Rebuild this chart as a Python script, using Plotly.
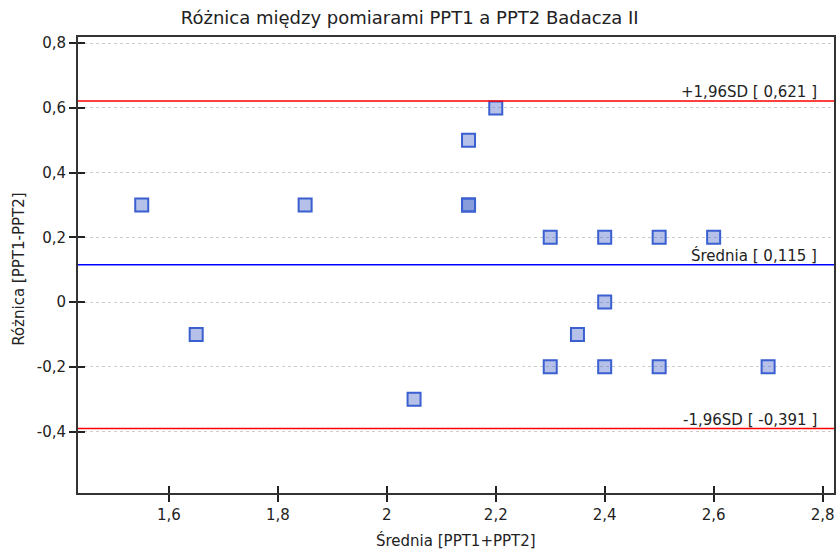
import plotly.graph_objects as go

# Data
srednia = [1.55, 1.65, 1.85, 2.05, 2.15, 2.15, 2.15, 2.2, 2.3, 2.3, 2.35, 2.4, 2.4, 2.4, 2.5, 2.5, 2.6, 2.7]
roznica = [0.3, -0.1, 0.3, -0.3, 0.5, 0.3, 0.3, 0.6, 0.2, -0.2, -0.1, 0.2, 0.0, -0.2, 0.2, -0.2, 0.2, -0.2]

mean_val = 0.115
upper_sd = 0.621
lower_sd = -0.391
ref_lines = [upper_sd, mean_val, lower_sd]
ref_colors = ["#ff0000", "#0000ff", "#ff0000"]
ref_labels = ["+1,96SD [ 0,621 ]", "Średnia [ 0,115 ]", "-1,96SD [ -0,391 ]"]

x_ticks = [1.6, 1.8, 2.0, 2.2, 2.4, 2.6, 2.8]
x_ticktext = ["1,6", "1,8", "2", "2,2", "2,4", "2,6", "2,8"]
y_ticks = [0.8, 0.6, 0.4, 0.2, 0.0, -0.2, -0.4]
y_ticktext = ["0,8", "0,6", "0,4", "0,2", "0", "-0,2", "-0,4"]

x_range = [1.433, 2.821]
y_range = [-0.59, 0.819]

font_family = "DejaVu Sans, Verdana, sans-serif"
txt_color = "#222222"

fig = go.Figure()

fig.add_trace(go.Scatter(
    x=srednia, y=roznica, mode="markers",
    marker=dict(symbol="square", size=13, color="rgba(70,100,200,0.4)",
                line=dict(color="#3a5fd0", width=2)),
    showlegend=False, hoverinfo="x+y",
))

shapes = []
annotations = []
for val, col, lab in zip(ref_lines, ref_colors, ref_labels):
    shapes.append(dict(type="line", xref="paper", x0=0, x1=1, yref="y", y0=val, y1=val,
                       line=dict(color=col, width=1.5), layer="above"))
    annotations.append(dict(xref="paper", x=0.98, yref="y", y=val, text=lab,
                            showarrow=False, xanchor="right", yanchor="bottom",
                            yshift=-2, font=dict(family=font_family, size=15, color=txt_color)))

# axis titles as annotations for exact placement
annotations.append(dict(xref="paper", x=0.5, yref="paper", y=-0.105, yanchor="middle",
                        text="Średnia [PPT1+PPT2]", showarrow=False,
                        font=dict(family=font_family, size=15, color=txt_color)))
annotations.append(dict(xref="paper", x=-0.079, xanchor="center", yref="paper", y=0.49,
                        text="Różnica [PPT1-PPT2]", showarrow=False, textangle=-90,
                        font=dict(family=font_family, size=15, color=txt_color)))

fig.update_layout(
    width=836, height=551,
    margin=dict(l=78, r=2, t=37, b=58),
    paper_bgcolor="white", plot_bgcolor="white",
    title=dict(text="Różnica między pomiarami PPT1 a PPT2 Badacza II",
               x=0.49, xanchor="center", y=0.967, yanchor="middle",
               font=dict(family=font_family, size=18, color=txt_color)),
    font=dict(family=font_family, size=15, color=txt_color),
    shapes=shapes, annotations=annotations,
    xaxis=dict(range=x_range, tickvals=x_ticks, ticktext=x_ticktext, automargin=False,
               showgrid=False, zeroline=False, showline=True, linecolor="#333333", linewidth=2,
               mirror=True, ticks="outside", ticklen=7, tickwidth=2, tickcolor="#222222",
               tickfont=dict(size=15, color=txt_color)),
    yaxis=dict(range=y_range, tickvals=y_ticks, ticktext=y_ticktext, automargin=False,
               showgrid=True, gridcolor="#cccccc", griddash="dot", gridwidth=1,
               zeroline=False, showline=True, linecolor="#333333", linewidth=2,
               mirror=True, ticks="outside", ticklen=7, tickwidth=2, tickcolor="#222222",
               tickfont=dict(size=15, color=txt_color)),
    xaxis2=dict(overlaying="x", range=x_range, tickvals=x_ticks, showticklabels=False,
                automargin=False, showgrid=False, zeroline=False, ticks="inside",
                ticklen=7, tickwidth=2, tickcolor="#222222", side="bottom", anchor="y"),
    yaxis2=dict(overlaying="y", range=y_range, tickvals=y_ticks, showticklabels=False,
                automargin=False, showgrid=False, zeroline=False, ticks="inside",
                ticklen=7, tickwidth=2, tickcolor="#222222", side="left", anchor="x"),
)

# invisible trace to activate the secondary (inside tick) axes
fig.add_trace(go.Scatter(x=[x_range[0]], y=[y_range[0]], xaxis="x2", yaxis="y2",
                         mode="markers", marker=dict(opacity=0), showlegend=False,
                         hoverinfo="skip"))

fig.write_html("out.html", config={"displayModeBar": False},
               post_script="document.body.style.margin='0';document.body.style.overflow='hidden';")
